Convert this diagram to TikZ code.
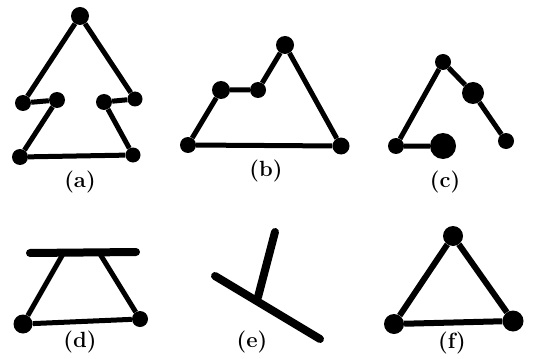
\documentclass[tikz,border=0pt]{standalone}
\usepackage{fontspec}
\usepackage{tikz}

\tikzset{
  dot/.style={circle,fill,inner sep=0pt,minimum size=15pt},
  bigdot/.style={dot,minimum size=22pt},
  hugedot/.style={dot,minimum size=26pt},
  edge/.style={line width=5pt},
  bar/.style={line width=8pt,line cap=round},
  lab/.style={font=\fontsize{22}{24}\selectfont\bfseries}
}

\begin{document}
\begin{tikzpicture}[x=1pt,y=-1pt]
\useasboundingbox (0,0) rectangle (534,358);
% (a)
\node[dot,minimum size=18pt] (a1) at (80,16) {};
\node[dot,minimum size=16pt] (a2) at (23,103) {};
\node[dot,minimum size=16pt] (a3) at (57,100) {};
\node[dot,minimum size=16pt] (a4) at (104,102) {};
\node[dot] (a5) at (135,99) {};
\node[dot,minimum size=16pt] (a6) at (20,157) {};
\node[dot] (a7) at (133,155) {};
\draw[edge] (a1) -- (a2) -- (a3) -- (a6) -- (a7) -- (a4) -- (a5) -- (a1);
\node[lab] (la) at (80,182) {(a)};
% (b)
\node[dot,minimum size=18pt] (b1) at (285,45) {};
\node[dot,minimum size=18pt] (b2) at (221,90) {};
\node[dot,minimum size=16pt] (b3) at (258,90) {};
\node[dot,minimum size=16pt] (b4) at (188,145) {};
\node[dot,minimum size=17pt] (b5) at (341,146) {};
\draw[edge] (b1) -- (b3) -- (b2) -- (b4) -- (b5) -- (b1);
\node[lab] (lb) at (266,171) {(b)};
% (c)
\node[dot,minimum size=16pt] (c1) at (443,62) {};
\node[bigdot] (c2) at (473,93) {};
\node[dot,minimum size=16pt] (c3) at (506,141) {};
\node[dot,minimum size=16pt] (c4) at (396,146) {};
\node[hugedot] (c5) at (443,146) {};
\draw[edge] (c5) -- (c4) -- (c1) -- (c2) -- (c3);
\node[lab] (lc) at (445,182) {(c)};
% (d)
\coordinate (d1) at (30,253);
\coordinate (d2) at (136,252);
\coordinate (d3) at (63,254);
\coordinate (d4) at (100,254);
\node[dot,minimum size=19pt] (d5) at (23,324) {};
\node[dot,minimum size=16pt] (d6) at (140,319) {};
\draw[bar] (d1) -- (d2);
\draw[edge] (d3) -- (d5) -- (d6) -- (d4);
\node[lab] (ld) at (80,342) {(d)};
% (e)
\coordinate (e1) at (215,276);
\coordinate (e2) at (320,339);
\coordinate (e3) at (258,297);
\coordinate (e4) at (275,232);
\draw[bar] (e1) -- (e2);
\draw[bar] (e3) -- (e4);
\node[lab] (le) at (252,342) {(e)};
% (f)
\node[dot,minimum size=20pt] (f1) at (453,236) {};
\node[dot,minimum size=20pt] (f2) at (394,324) {};
\node[dot,minimum size=21pt] (f3) at (513,321) {};
\draw[line width=6pt] (f1) -- (f2) -- (f3) -- (f1);
\node[lab] (lf) at (452,343) {(f)};
\end{tikzpicture}
\end{document}
